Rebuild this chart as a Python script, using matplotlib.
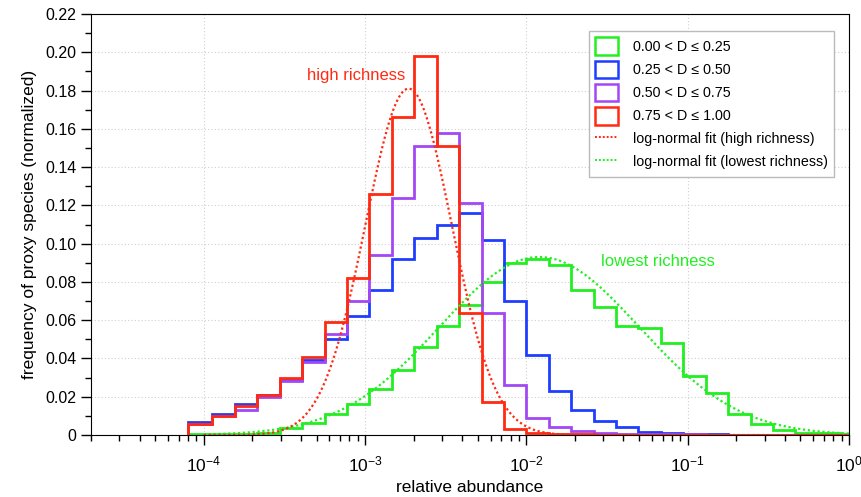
import numpy as np
import matplotlib
matplotlib.use("Agg")
import matplotlib.pyplot as plt
from matplotlib.patches import Patch
from matplotlib.lines import Line2D
from matplotlib.ticker import MultipleLocator, LogLocator, NullFormatter

plt.rcParams["font.family"] = ["Liberation Sans", "DejaVu Sans"]
plt.rcParams["mathtext.default"] = "regular"

# bin edges in log10(relative abundance)
log_edges = np.concatenate([[-4.10], -2 + 0.139 * np.arange(-14, 15), [0.0]])
edges = 10 ** log_edges

freq_low = [0.0003, 0.0005, 0.0007, 0.0012, 0.0035, 0.0062, 0.011, 0.016, 0.024, 0.034,
            0.046, 0.057, 0.068, 0.080, 0.090, 0.092, 0.089, 0.076, 0.067, 0.057,
            0.056, 0.048, 0.031, 0.022, 0.011, 0.006, 0.0026, 0.0012, 0.0008, 0.0005]
freq_mid_low = [0.007, 0.011, 0.016, 0.021, 0.029, 0.039, 0.050, 0.062, 0.076, 0.092,
                0.103, 0.110, 0.116, 0.102, 0.070, 0.042, 0.023, 0.013, 0.0073, 0.0044,
                0.0017, 0.001, 0.0005, 0.0003, 0.0001, 0.0001, 0.0001, 0.0001, 0.0001, 0.0001]
freq_mid_high = [0.006, 0.010, 0.013, 0.020, 0.028, 0.038, 0.053, 0.070, 0.094, 0.124,
                 0.151, 0.158, 0.121, 0.064, 0.026, 0.009, 0.004, 0.002, 0.001, 0.0007,
                 0.0005, 0.0004, 0.0003, 0.0002, 0.0001, 0.0001, 0.0001, 0.0001, 0.0001, 0.0001]
freq_high = [0.006, 0.010, 0.015, 0.021, 0.030, 0.041, 0.059, 0.082, 0.126, 0.166,
             0.198, 0.151, 0.064, 0.017, 0.003, 0.001, 0.0005, 0.0003, 0.0002, 0.0002,
             0.0001, 0.0001, 0.0001, 0.0001, 0.0001, 0.0001, 0.0001, 0.0001, 0.0001, 0.0001]

# log-normal fits: peak height, log10 mean, log10 sigma
fit_high = (0.181, -2.73, 0.268)
fit_low = (0.093, -1.92, 0.62)

labels = ["0.00 < D \u2264 0.25", "0.25 < D \u2264 0.50",
          "0.50 < D \u2264 0.75", "0.75 < D \u2264 1.00"]
colors = ["#22ee22", "#1f3dff", "#a347f5", "#ff2a12"]

fig = plt.figure(figsize=(8.62, 4.97), dpi=100)
ax = fig.add_axes([91 / 862, 1 - 435 / 497, (849 - 91) / 862, (435 - 14) / 497])

for vals, c in zip([freq_low, freq_mid_low, freq_mid_high, freq_high], colors):
    ax.stairs(vals, edges, color=c, lw=2.0, baseline=0)

u = np.linspace(-4.0, 0.0, 400)
for (amp, mu, sig), c in zip([fit_low, fit_high], [colors[0], colors[3]]):
    ax.plot(10 ** u, amp * np.exp(-(u - mu) ** 2 / (2 * sig ** 2)),
            color=c, lw=1.6, ls=(0, (1, 1.2)))

ax.set_xscale("log")
ax.set_xlim(2e-5, 1)
ax.set_ylim(0, 0.22)
ax.yaxis.set_minor_locator(MultipleLocator(0.01))
ax.set_yticks(np.arange(0, 0.2201, 0.02))
ax.set_yticklabels(["0"] + ["%.2f" % v for v in np.arange(0.02, 0.2201, 0.02)])
ax.xaxis.set_major_locator(LogLocator(base=10, numticks=10))
ax.xaxis.set_minor_locator(LogLocator(base=10, subs=np.arange(2, 10), numticks=20))
ax.xaxis.set_minor_formatter(NullFormatter())
ax.tick_params(which="major", direction="out", length=7, width=1, labelsize=11.5)
ax.tick_params(which="minor", direction="out", length=4, width=1)
ax.tick_params(axis="x", which="major", pad=7, labelsize=12.5)
ax.grid(True, which="major", color="#d0d0d0", ls=(0, (1, 2)), lw=0.8)
ax.set_axisbelow(True)

ax.set_xlabel("relative abundance", fontsize=12.5, labelpad=4)
ax.set_ylabel("frequency of proxy species (normalized)", fontsize=12.5, labelpad=6)

ax.text(8.8e-4, 0.188, "high richness", color=colors[3], fontsize=12, ha="center", va="center")
ax.text(0.065, 0.0905, "lowest richness", color=colors[0], fontsize=12, ha="center", va="center")

handles = [Patch(facecolor="white", edgecolor=c, lw=1.8) for c in colors]
handles += [Line2D([], [], color=colors[3], lw=1.4, ls=(0, (1, 1))),
            Line2D([], [], color=colors[0], lw=1.4, ls=(0, (1, 1)))]
leg_labels = labels + ["log-normal fit (high richness)", "log-normal fit (lowest richness)"]
leg = ax.legend(handles, leg_labels, loc="upper right", bbox_to_anchor=(834 / 862, 1 - 31 / 497),
                bbox_transform=fig.transFigure, borderaxespad=0, fontsize=10.3,
                handlelength=1.6, handleheight=1.55, handletextpad=1.0, labelspacing=0.36,
                borderpad=0.45, fancybox=False, edgecolor="#bbbbbb", framealpha=1)

fig.savefig("out.png", dpi=100)
